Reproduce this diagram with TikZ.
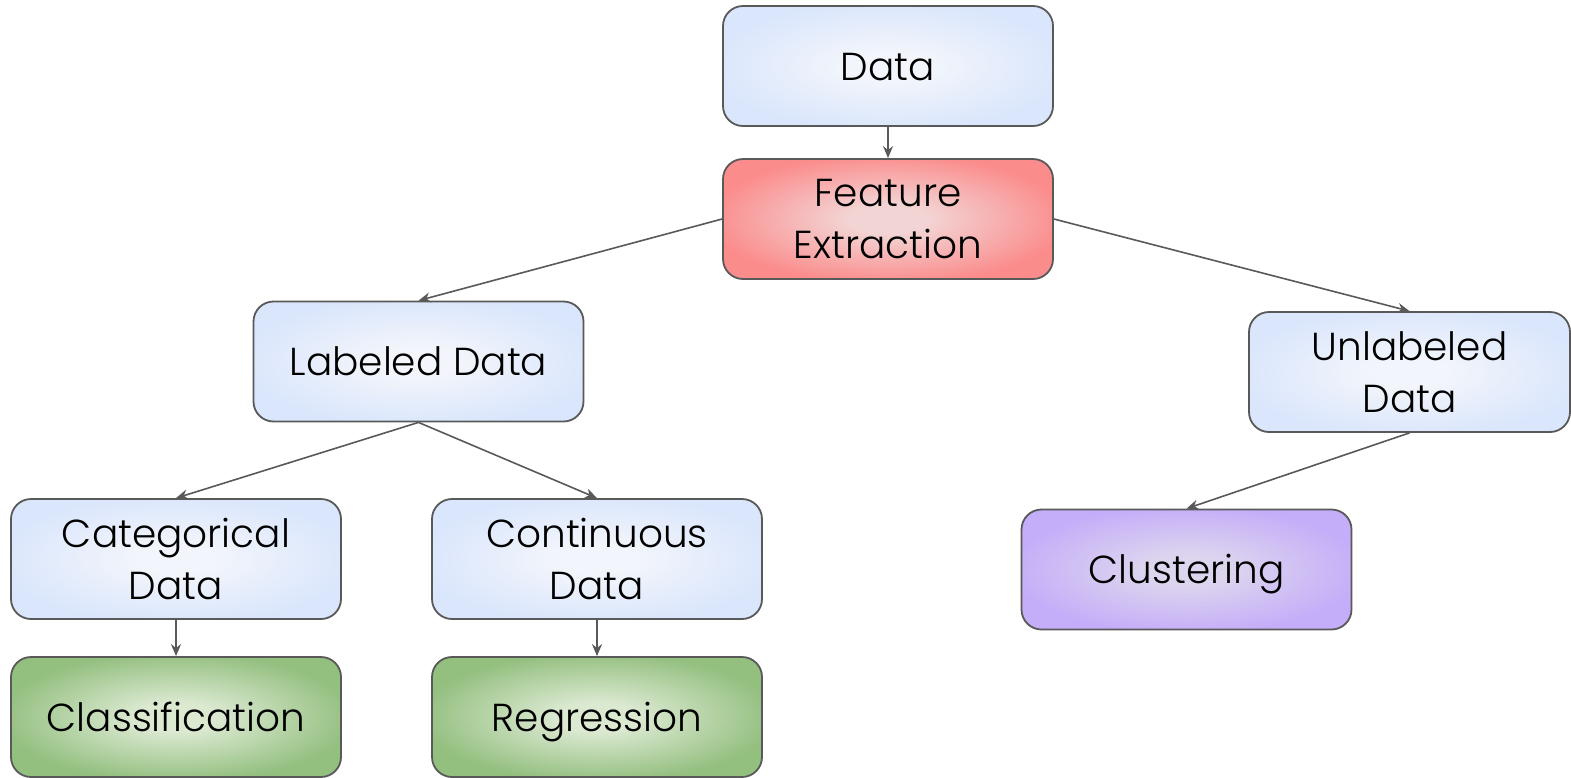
\documentclass[tikz,border=0pt]{standalone}
\usepackage{fontspec}
\setmainfont{Poppins}[UprightFont=* Light]
\usetikzlibrary{arrows.meta}
\definecolor{bout}{HTML}{DAE6FC}
\definecolor{bin}{HTML}{F2F5FB}
\definecolor{rout}{HTML}{FB8C8C}
\definecolor{rin}{HTML}{F3D4D4}
\definecolor{gout}{HTML}{93BF7F}
\definecolor{gin}{HTML}{DBE9D1}
\definecolor{pout}{HTML}{C4ADF9}
\definecolor{pin}{HTML}{DDD5EE}
\definecolor{edge}{HTML}{595959}
\pgfdeclareradialshading{blueshade}{\pgfpoint{0bp}{0bp}}{color(0bp)=(bin); color(6bp)=(bin); color(27bp)=(bout); color(50bp)=(bout)}
\pgfdeclareradialshading{redshade}{\pgfpoint{0bp}{0bp}}{color(0bp)=(rin); color(6bp)=(rin); color(27bp)=(rout); color(50bp)=(rout)}
\pgfdeclareradialshading{greenshade}{\pgfpoint{0bp}{0bp}}{color(0bp)=(gin); color(6bp)=(gin); color(27bp)=(gout); color(50bp)=(gout)}
\pgfdeclareradialshading{purpleshade}{\pgfpoint{0bp}{0bp}}{color(0bp)=(pin); color(6bp)=(pin); color(27bp)=(pout); color(50bp)=(pout)}
\tikzset{
  box/.style={draw=edge, line width=1.8pt, rounded corners=20pt, minimum width=330pt, minimum height=120pt, inner sep=0pt, align=center, font=\fontsize{39}{52}\selectfont, text=black},
  oneline/.style={text height=28pt, text depth=0pt},
  bluebox/.style={box, shading=blueshade},
  redbox/.style={box, shading=redshade},
  greenbox/.style={box, shading=greenshade},
  purplebox/.style={box, shading=purpleshade},
  conn/.style={draw=edge, line width=1.6pt, -{Stealth[length=12pt,width=10pt]}}
}
\begin{document}
\begin{tikzpicture}[x=1pt,y=-1pt]
\useasboundingbox (0,0) rectangle (1571,777);
\node[bluebox, oneline] (data) at (888,66) {Data};
\node[redbox] (fe) at (888,219) {Feature\\Extraction};
\node[bluebox, oneline] (lab) at (418.5,361.5) {Labeled Data};
\node[bluebox, minimum width=321pt] (unl) at (1409.5,372) {Unlabeled\\Data};
\node[bluebox] (cat) at (176,559) {Categorical\\Data};
\node[bluebox] (cont) at (597,559) {Continuous\\Data};
\node[greenbox, oneline] (cls) at (176,717) {Classification};
\node[greenbox, oneline] (reg) at (597,717) {Regression};
\node[purplebox, oneline] (clu) at (1186.5,569.5) {Clustering};
\draw[conn] (data.south) -- (fe.north);
\draw[conn] (fe.west) -- (lab.north);
\draw[conn] (fe.east) -- (unl.north);
\draw[conn] (lab.south) -- (cat.north);
\draw[conn] (lab.south) -- (cont.north);
\draw[conn] (unl.south) -- (clu.north);
\draw[conn] (cat.south) -- (cls.north);
\draw[conn] (cont.south) -- (reg.north);
\end{tikzpicture}
\end{document}
